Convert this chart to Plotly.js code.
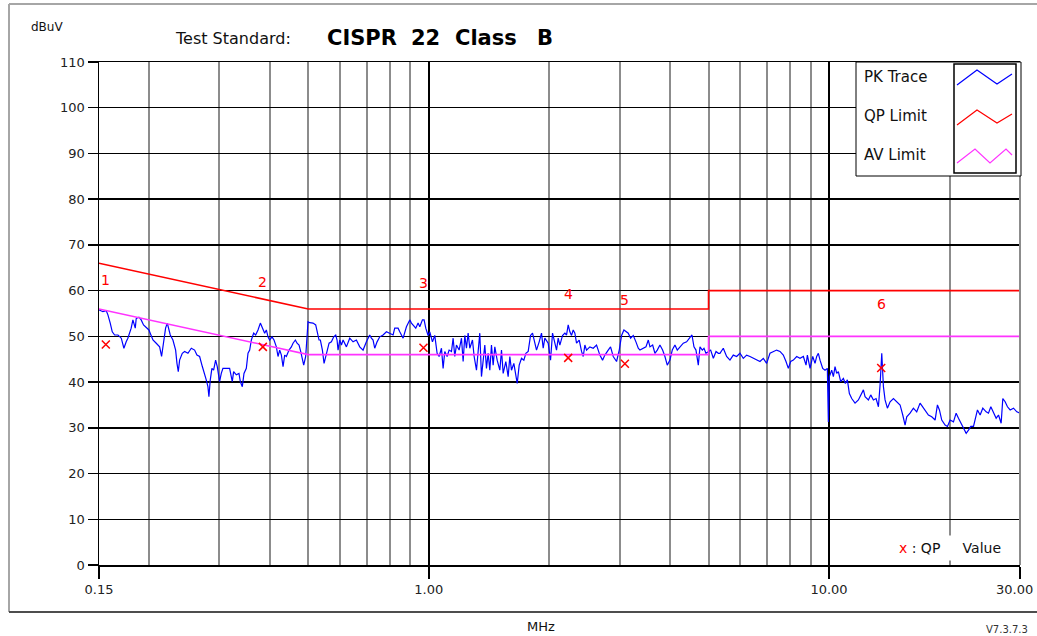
<!DOCTYPE html>
<html>
<head>
<meta charset="utf-8">
<script src="https://cdn.plot.ly/plotly-3.0.1.min.js"></script>
<style>html,body{margin:0;padding:0;background:#fff;}#chart{width:1037px;height:636px;}</style>
</head>
<body>
<div id="chart"></div>
<script>
// ---------------- DATA ----------------
// PK trace, 0.15 - 1 MHz
const pkFreqLow = [0.150,0.1534,0.1564,0.1579,0.1600,0.1619,0.1641,0.1673,0.1705,0.1731,
0.1754,0.1771,0.1805,0.1823,0.1848,0.1858,0.1887,0.1912,0.1938,0.1968,
0.1999,0.2014,0.2046,0.2085,0.2126,0.2150,0.2175,0.2200,0.2222,0.2243,
0.2260,0.2295,0.2331,0.2349,0.2367,0.2385,0.2422,0.2455,0.2502,0.2551,
0.2600,0.2635,0.2676,0.2718,0.2754,0.2780,0.2807,0.2823,0.2845,0.2872,
0.2900,0.2934,0.2962,0.3002,0.3031,0.3060,0.3120,0.3180,0.3229,0.3254,
0.3305,0.3356,0.3382,0.3421,0.3454,0.3501,0.3535,0.3569,0.3604,0.3652,
0.3694,0.3744,0.3795,0.3839,0.3890,0.3928,0.3966,0.4004,0.4058,0.4105,
0.4161,0.4201,0.4242,0.4283,0.4324,0.4365,0.4407,0.4475,0.4536,0.4580,
0.4642,0.4687,0.4741,0.4786,0.4833,0.4870,0.4926,0.4993,0.5041,0.5138,
0.5218,0.5269,0.5319,0.5360,0.5423,0.5475,0.5528,0.5570,0.5635,0.5711,
0.5788,0.5855,0.5900,0.5934,0.5992,0.6050,0.6108,0.6226,0.6346,0.6469,
0.6594,0.6722,0.6852,0.6985,0.7120,0.7189,0.7258,0.7328,0.7427,0.7543,
0.7689,0.7838,0.7989,0.8144,0.8222,0.8382,0.8463,0.8627,0.8794,0.8964,
0.9051,0.9138,0.9279,0.9404,0.9495,0.9643,0.9734];
const pkLevelLow = [55.8,55.4,55.6,54.7,52.9,51.0,50.3,50.3,49.6,47.4,
48.8,49.6,51.8,53.6,51.8,53.9,54.2,53.6,52.5,52.0,
51.4,50.7,49.2,48.5,47.7,45.6,49.2,51.8,52.9,51.4,
50.3,49.2,47.0,44.1,42.3,44.8,46.3,46.7,46.3,47.4,
47.0,45.9,45.6,43.4,41.9,40.5,39.0,36.8,40.5,43.0,
42.6,44.8,43.4,40.1,41.9,43.0,43.0,43.0,40.1,42.3,
41.6,41.9,40.1,39.0,41.9,43.0,46.3,47.0,49.2,50.7,
50.3,51.4,52.9,51.8,50.7,51.4,49.9,49.2,49.9,49.2,
47.7,45.6,47.0,45.9,43.4,45.9,45.6,47.0,47.7,48.5,
49.2,48.5,48.1,46.7,45.2,43.7,45.6,53.2,53.0,52.9,
52.5,50.7,49.2,49.2,47.0,44.1,45.6,47.0,48.5,48.8,
49.9,50.3,49.2,47.0,49.2,48.1,49.2,47.7,49.6,48.8,
49.2,47.7,47.0,48.8,50.3,49.6,49.2,47.4,48.8,49.9,
50.3,51.0,50.7,50.3,51.8,51.8,51.0,49.6,52.1,53.6,
52.9,52.5,51.8,52.9,52.1,53.6,53.6];

// PK trace, 1 - 5.3 MHz
const pkFreqMid = [0.9829,0.9962,1.0058,1.0214,1.0351,1.0491,1.0612,1.0757,1.0859,1.0965,
1.1113,1.1242,1.1395,1.1505,1.1614,1.1726,1.1908,1.2070,1.2186,1.2303,
1.2421,1.2541,1.2662,1.2858,1.2983,1.3158,1.3284,1.3412,1.3541,1.3672,
1.3804,1.3937,1.4071,1.4207,1.4344,1.4482,1.4622,1.4820,1.5050,1.5195,
1.5342,1.5577,1.5788,1.5941,1.6095,1.6313,1.6471,1.6631,1.6823,1.7050,
1.7280,1.7481,1.7717,1.7957,1.8165,1.8408,1.8586,1.8873,1.9128,1.9313,
1.9498,1.9877,2.0146,2.0379,2.0654,2.0853,2.1054,2.1257,2.1587,2.1878,
2.2090,2.2302,2.2517,2.2735,2.2954,2.3174,2.3398,2.3760,2.4082,2.4314,
2.4547,2.4784,2.5263,2.5753,2.6251,2.6758,2.7175,2.7542,2.8074,2.8454,
2.8896,2.9456,2.9914,3.0320,3.0728,3.1084,3.1506,3.1933,3.2427,3.2929,
3.3375,3.3698,3.4350,3.4885,3.5357,3.5699,3.6252,3.6728,3.7227,3.7803,
3.8388,3.8905,3.9432,4.0041,4.0583,4.1210,4.1768,4.2418,4.3241,4.4079,
4.4933,4.5453,4.5979,4.6511,4.7140,4.7598,4.8241,4.8709,4.9273,4.9940,
5.0617,5.1400,5.2200,5.2907];
const pkLevelMid = [51.8,50.2,51.0,48.8,50.2,46.3,45.6,47.4,43.0,46.7,
45.6,47.0,46.7,49.6,45.6,48.1,47.0,49.6,44.5,50.2,
47.4,50.7,47.4,49.2,45.6,42.6,46.7,50.7,41.2,44.1,
48.1,43.0,46.3,42.6,48.1,43.7,47.7,44.8,42.6,47.0,
41.9,44.5,41.2,45.6,42.6,44.1,41.9,39.7,43.7,45.2,
44.8,46.3,46.7,50.2,50.7,48.8,47.0,48.8,50.7,47.4,
49.6,48.5,44.8,50.7,48.8,47.0,49.6,48.1,50.2,50.7,
50.3,52.5,51.0,50.2,51.4,50.7,48.5,49.2,46.7,45.6,
48.1,47.0,47.7,47.4,48.1,45.9,44.8,45.9,47.0,47.7,
45.6,44.5,47.0,50.2,51.4,51.0,50.7,49.6,50.2,48.8,
47.4,47.0,47.4,47.7,49.2,47.7,48.1,46.3,47.0,48.1,
47.0,45.6,43.7,44.8,47.0,48.1,47.0,47.7,48.5,48.8,
49.6,50.3,47.7,47.0,43.7,47.7,47.0,47.4,46.3,46.7,
47.0,45.2,46.7,46.3];

// PK trace, 5.3 - 30 MHz
const pkFreqHigh = [5.3394,5.4429,5.5482,5.6558,5.7654,5.8769,5.9908,6.1068,6.2252,6.3460,
6.4688,6.5941,6.7219,6.8520,6.9847,7.1199,7.2577,7.3983,7.5415,7.6875,
7.8071,7.9127,8.0203,8.1444,8.3022,8.4630,8.6269,8.7610,8.8287,8.9660,
9.1053,9.2257,9.3146,9.4040,9.4952,9.6423,9.7724,9.9041,9.9613,10.019,
10.155,10.252,10.351,10.451,10.552,10.695,10.860,10.986,11.113,11.242,
11.395,11.614,11.840,11.955,12.187,12.303,12.541,12.711,12.908,13.108,
13.287,13.414,13.544,13.674,13.804,13.991,14.209,14.485,14.765,15.050,
15.283,15.488,15.637,15.939,16.247,16.562,16.882,17.143,17.409,17.713,
18.054,18.408,18.656,18.872,19.127,19.498,19.763,20.069,20.459,20.777,
21.058,21.344,21.675,22.011,22.308,22.609,22.959,23.174,23.488,23.852,
24.221,24.690,25.023,25.365,25.757,26.157,26.510,26.915,27.175,27.542,
27.914,28.349,28.897,29.457,30.0];
const pkLevelHigh = [46.3,47.4,45.6,44.8,45.9,45.6,46.3,45.2,45.9,45.6,
45.2,44.8,44.5,45.2,44.1,46.3,46.7,47.0,46.7,45.9,
44.5,43.0,44.5,44.8,45.6,45.2,45.6,43.7,45.9,43.0,
45.6,44.1,45.6,46.3,44.8,43.0,42.6,43.0,31.3,41.2,
42.6,41.2,43.4,41.9,42.3,40.1,40.8,39.7,40.5,37.5,
36.4,35.4,36.1,36.8,38.3,36.8,36.1,37.2,36.1,36.4,
34.6,39.4,46.3,39.0,36.1,34.3,35.7,36.4,35.7,35.0,
32.8,30.6,32.4,33.2,34.3,33.5,35.4,34.6,33.9,32.8,
32.4,31.7,35.0,33.9,31.7,30.6,30.3,31.7,31.3,33.2,
32.1,31.0,29.9,28.8,29.5,30.3,30.3,32.1,33.9,32.8,
34.3,33.5,33.2,34.6,33.5,32.1,32.8,31.0,36.4,35.7,
34.6,33.9,34.3,33.5,33.2];

// Limits (CISPR 22 Class B)
const limitFreq = [0.15, 0.5, 5, 5, 30];
const qpLimit   = [66, 56, 56, 60, 60];
const avLimit   = [56, 46, 46, 50, 50];

// QP measured values
const qpNames = ['1','2','3','4','5','6'];
const qpFreq  = [0.156, 0.385, 0.97, 2.23, 3.09, 13.5];
const qpValue = [48.2, 47.7, 47.5, 45.3, 44.0, 43.1];

// Axis ticks
const xTickVals = [0.15, 1, 10, 30];
const xTickText = ['0.15', '1.00', '10.00', ''];
const xLastTickText = '30.00';
const xMinorVals = [0.2,0.3,0.4,0.5,0.6,0.7,0.8,0.9,2,3,4,5,6,7,8,9,20];

const legendNames = ['PK Trace', 'QP Limit', 'AV Limit'];

// ---------------- DRAW ----------------
const L = 99, R = 1020, T = 62, B = 565;
const P = (px, py) => ({x: (px - L) / (R - L), y: (B - py) / (B - T)});
const pathOf = pts => pts.map((p, i) => { const q = P(p[0], p[1]); return (i ? 'L' : 'M') + q.x + ',' + q.y; }).join(' ');
const FONT = 'DejaVu Sans, Arial, sans-serif';

const pkFreq = pkFreqLow.concat(pkFreqMid, pkFreqHigh);
const pkLevel = pkLevelLow.concat(pkLevelMid, pkLevelHigh);

const traces = [
  {x: pkFreq, y: pkLevel, type: 'scatter', mode: 'lines', line: {color: '#0000ff', width: 1.2}, hoverinfo: 'skip'},
  {x: limitFreq, y: qpLimit, type: 'scatter', mode: 'lines', line: {color: '#ff0000', width: 1.6}, hoverinfo: 'skip'},
  {x: limitFreq, y: avLimit, type: 'scatter', mode: 'lines', line: {color: '#ff33ff', width: 1.6}, hoverinfo: 'skip'},
  {x: qpFreq, y: qpValue, type: 'scatter', mode: 'markers',
   marker: {symbol: 'x-thin', size: 8, color: '#ff0000', line: {color: '#ff0000', width: 1.5}}, hoverinfo: 'skip'}
];

const labelLift = [14.1, 14.2, 14.2, 13.9, 13.9, 13.9];
const annotations = [];
qpNames.forEach((n, i) => {
  annotations.push({x: Math.log10(qpFreq[i]), y: qpValue[i] + labelLift[i], xref: 'x', yref: 'y', text: n,
    showarrow: false, font: {family: FONT, size: 14, color: '#ff0000'}, xanchor: 'center', yanchor: 'middle'});
});
function txt(px, py, text, size, opts) {
  const q = P(px, py);
  annotations.push(Object.assign({x: q.x, y: q.y, xref: 'paper', yref: 'paper', text: text, showarrow: false,
    font: {family: FONT, size: size, color: '#111'}, xanchor: 'left', yanchor: 'middle'}, opts || {}));
}
const titleFont = {family: FONT, size: 21, color: '#000'};
txt(47, 27, 'dBuV', 12, {xanchor: 'center'});
txt(233, 38, 'Test Standard:', 16, {xanchor: 'center'});
txt(362, 38, '<b>CISPR</b>', 21, {xanchor: 'center', font: titleFont});
txt(425, 38, '<b>22</b>', 21, {xanchor: 'center', font: titleFont});
txt(486, 38, '<b>Class</b>', 21, {xanchor: 'center', font: titleFont});
txt(545, 38, '<b>B</b>', 21, {xanchor: 'center', font: titleFont});
txt(1035, 589, xLastTickText, 13, {xanchor: 'right', font: {family: FONT, size: 13, color: '#222'}});
txt(541, 626, 'MHz', 13, {xanchor: 'center'});
txt(1030, 629, 'V7.3.7.3', 11, {xanchor: 'right', font: {family: FONT, size: 10, color: '#333'}});
txt(862, 77, legendNames[0], 15);
txt(862, 116, legendNames[1], 15);
txt(862, 155, legendNames[2], 15);
txt(950, 548, "<span style='color:#ff0000'>x</span> : QP\u00a0\u00a0\u00a0\u00a0\u00a0Value", 14,
  {xanchor: 'center', bgcolor: '#ffffff', width: 128, height: 22, align: 'center'});

const shapes = [];
function line(p1, p2, color, width) {
  const a = P(p1[0], p1[1]), b = P(p2[0], p2[1]);
  shapes.push({type: 'line', xref: 'paper', yref: 'paper', x0: a.x, y0: a.y, x1: b.x, y1: b.y, line: {color: color, width: width}});
}
function rect(p1, p2, color, width, fill) {
  const a = P(p1[0], p1[1]), b = P(p2[0], p2[1]);
  shapes.push({type: 'rect', xref: 'paper', yref: 'paper', x0: a.x, y0: a.y, x1: b.x, y1: b.y,
    line: {color: color, width: width}, fillcolor: fill || 'rgba(0,0,0,0)'});
}
// outer frame
line([9, 4], [9, 612], '#a6a6a6', 2);
line([9, 4], [1045, 4], '#a6a6a6', 2);
line([9, 612], [1045, 612], '#4d4d4d', 2);
// right plot edge
shapes.push({type: 'line', xref: 'paper', yref: 'paper', x0: 1, x1: 1, y0: 0, y1: 1, line: {color: '#8c8c8c', width: 2}});
// legend
rect([856, 62], [1021, 176], '#000', 1, '#ffffff');
rect([954, 64], [1016, 173], '#000', 1.5, '#ffffff');
shapes.push({type: 'path', xref: 'paper', yref: 'paper', path: pathOf([[957, 85], [977, 70], [997, 84], [1012, 74]]), line: {color: '#0000ff', width: 1.2}});
shapes.push({type: 'path', xref: 'paper', yref: 'paper', path: pathOf([[957, 125], [977, 110], [997, 123], [1012, 114]]), line: {color: '#ff0000', width: 1.2}});
shapes.push({type: 'path', xref: 'paper', yref: 'paper', path: pathOf([[957, 163], [975, 149], [990, 163], [1006, 149], [1012, 155]]), line: {color: '#ff33ff', width: 1.2}});

const tickFont = {family: FONT, size: 13, color: '#222'};
const layout = {
  width: 1037, height: 636,
  margin: {l: L, r: 1037 - R, t: T, b: 636 - B, pad: 0},
  paper_bgcolor: '#ffffff', plot_bgcolor: '#ffffff',
  showlegend: false,
  xaxis: {
    type: 'log', range: [Math.log10(0.15), Math.log10(30)],
    tickmode: 'array', tickvals: xTickVals, ticktext: xTickText,
    ticks: 'outside', ticklen: 12, tickwidth: 1.5, tickcolor: '#000',
    showgrid: true, gridcolor: '#000', gridwidth: 2,
    minor: {tickmode: 'array', tickvals: xMinorVals, showgrid: true, gridcolor: '#8c8c8c', gridwidth: 2, ticks: ''},
    showline: true, linecolor: '#000', linewidth: 1.5, mirror: true,
    zeroline: false, tickfont: tickFont, fixedrange: true, automargin: false
  },
  yaxis: {
    range: [0, 110], tickmode: 'linear', tick0: 0, dtick: 10,
    ticks: 'outside', ticklen: 10, tickwidth: 1.5, tickcolor: '#000',
    showgrid: true, gridcolor: '#000', gridwidth: 1.5,
    showline: true, linecolor: '#000', linewidth: 1.5,
    zeroline: false, tickfont: tickFont, fixedrange: true, automargin: false
  },
  annotations: annotations,
  shapes: shapes
};
Plotly.newPlot('chart', traces, layout, {staticPlot: true, displayModeBar: false});
</script>
</body>
</html>
